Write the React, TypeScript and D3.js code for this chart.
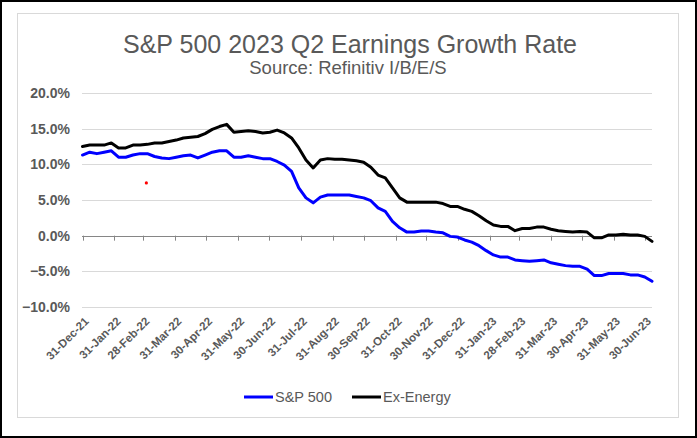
import React from "react";
import * as d3 from "d3";

// weekly readings (Fridays), first one 31-Dec-21
const startDate = "2021-12-31";
const sp500 = [
  11.3, 11.7, 11.5, 11.7, 11.9, 11.0, 11.0, 11.3, 11.5, 11.5,
  11.1, 10.9, 10.8, 11.0, 11.2, 11.3, 10.9, 11.3, 11.7, 11.9,
  11.9, 11.0, 11.0, 11.2, 11.0, 10.8, 10.8, 10.4, 9.9, 9.0,
  6.7, 5.3, 4.6, 5.4, 5.7, 5.7, 5.7, 5.7, 5.5, 5.3,
  4.9, 3.9, 3.4, 2.0, 1.1, 0.5, 0.5, 0.65, 0.65, 0.5,
  0.4, -0.1, -0.2, -0.6, -0.9, -1.4, -2.1, -2.7, -3.0, -3.0,
  -3.4, -3.5, -3.6, -3.5, -3.4, -3.8, -4.0, -4.2, -4.3, -4.3,
  -4.7, -5.6, -5.6, -5.3, -5.3, -5.3, -5.5, -5.5, -5.8, -6.4,
];
const exEnergy = [
  12.5, 12.7, 12.7, 12.7, 13.0, 12.3, 12.3, 12.7, 12.7, 12.8,
  13.0, 13.0, 13.2, 13.4, 13.7, 13.8, 13.9, 14.3, 14.9, 15.3,
  15.6, 14.5, 14.6, 14.7, 14.6, 14.4, 14.5, 14.8, 14.4, 13.7,
  12.3, 10.6, 9.5, 10.6, 10.8, 10.7, 10.7, 10.6, 10.5, 10.3,
  9.6, 8.5, 8.1, 6.7, 5.3, 4.7, 4.7, 4.7, 4.7, 4.7,
  4.5, 4.1, 4.1, 3.7, 3.4, 2.8, 2.1, 1.5, 1.3, 1.3,
  0.7, 1.0, 1.0, 1.2, 1.2, 0.9, 0.7, 0.6, 0.5, 0.6,
  0.5, -0.3, -0.3, 0.1, 0.1, 0.2, 0.1, 0.1, -0.1, -0.8,
];
const tickLabels = [
  "31-Dec-21", "31-Jan-22", "28-Feb-22", "31-Mar-22", "30-Apr-22",
  "31-May-22", "30-Jun-22", "31-Jul-22", "31-Aug-22", "30-Sep-22",
  "31-Oct-22", "30-Nov-22", "31-Dec-22", "31-Jan-23", "28-Feb-23",
  "31-Mar-23", "30-Apr-23", "31-May-23", "30-Jun-23",
];
const yTicks = [-10, -5, 0, 5, 10, 15, 20];
const seriesNames = ["S&P 500", "Ex-Energy"];
const seriesColors = ["#0000ff", "#000000"];
// the little red speck in the source image
const strayDot = { date: "2022-03-03", value: 7.4 };

const W = 697;
const H = 438;
const FONT = "'Liberation Sans', Arial, sans-serif";
const GREY = "#595959";

export default function App() {
  const parseIso = d3.timeParse("%Y-%m-%d");
  const parseTick = d3.timeParse("%d-%b-%y");
  const t0 = parseIso(startDate) as Date;
  const dates = sp500.map((_, i) => d3.timeDay.offset(t0, 7 * i));

  const x = d3
    .scaleTime()
    .domain([t0, dates[dates.length - 1]])
    .range([82.5, 652]);
  const y = d3.scaleLinear().domain([-10, 20]).range([307, 93]);

  const line = d3
    .line<number>()
    .x((_, i) => x(dates[i]))
    .y((d) => y(d));

  const ticks = tickLabels.map((l) => ({ label: l, date: parseTick(l) as Date }));
  const fmt = d3.format(".1f");

  return (
    <div style={{ position: "absolute", left: 0, top: 0 }}>
      <svg width={W} height={H} style={{ display: "block", fontFamily: FONT }}>
        <rect x={0} y={0} width={W} height={H} fill="#fff" />
        <rect x={1} y={1} width={W - 2} height={H - 2} fill="none" stroke="#000" strokeWidth={2} />
        <rect x={17.5} y={13.5} width={661} height={404} fill="#fff" stroke="#d9d9d9" strokeWidth={1} />

        <text x={350} y={53} textAnchor="middle" fontSize={25} fill={GREY}>
          S&amp;P 500 2023 Q2 Earnings Growth Rate
        </text>
        <text x={348} y={74} textAnchor="middle" fontSize={18.5} fill={GREY}>
          Source: Refinitiv I/B/E/S
        </text>

        {/* grid + y labels */}
        {yTicks.map((t) => (
          <g key={t}>
            {t !== 0 && (
              <line x1={82} x2={652} y1={Math.round(y(t)) + 0.5} y2={Math.round(y(t)) + 0.5} stroke="#d9d9d9" strokeWidth={1} />
            )}
            <text x={70} y={y(t)} dy="0.36em" textAnchor="end" fontSize={14} fontWeight="bold" fill={GREY}>
              {fmt(t)}%
            </text>
          </g>
        ))}

        {/* zero axis with month-end ticks */}
        <line x1={82} x2={652} y1={Math.round(y(0)) + 0.5} y2={Math.round(y(0)) + 0.5} stroke="#868686" strokeWidth={1} />
        {ticks.map((t) => (
          <line
            key={t.label}
            x1={Math.round(x(t.date)) + 0.5}
            x2={Math.round(x(t.date)) + 0.5}
            y1={y(0)}
            y2={y(0) + 5}
            stroke="#868686"
            strokeWidth={1}
          />
        ))}

        {/* x labels */}
        {ticks.map((t) => (
          <text
            key={t.label}
            transform={`translate(${x(t.date) + 7},${322}) rotate(-45)`}
            textAnchor="end"
            fontSize={11.5}
            fontWeight="bold"
            fill={GREY}
          >
            {t.label}
          </text>
        ))}

        {[sp500, exEnergy].map((s, k) => (
          <path
            key={seriesNames[k]}
            d={line(s) ?? ""}
            fill="none"
            stroke={seriesColors[k]}
            strokeWidth={3}
            strokeLinejoin="round"
            strokeLinecap="round"
          />
        ))}

        <circle cx={x(parseIso(strayDot.date) as Date)} cy={y(strayDot.value)} r={1.6} fill="#ff0000" />

        {/* legend */}
        {seriesNames.map((n, k) => {
          const lx = [244, 352][k];
          return (
            <g key={n}>
              <line x1={lx} x2={lx + 29} y1={397} y2={397} stroke={seriesColors[k]} strokeWidth={3} />
              <text x={lx + 31} y={397} dy="0.36em" fontSize={14.5} fill={GREY}>
                {n}
              </text>
            </g>
          );
        })}
      </svg>
    </div>
  );
}
